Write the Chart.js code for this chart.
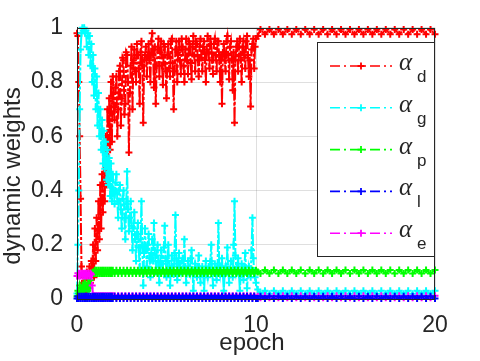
<!DOCTYPE html>
<html><head><meta charset="utf-8">
<script src="https://cdn.jsdelivr.net/npm/chart.js@4/dist/chart.umd.min.js"></script>
<style>html,body{margin:0;padding:0;background:#fff}canvas{display:block}</style>
</head><body>
<canvas id="c" width="480" height="361"></canvas>
<script>
// epochs for the noisy series (alpha_d, alpha_g)
const epochsFine = [
 0,0.05,0.1,0.15,0.2,0.25,0.3,0.35,0.4,0.45,0.5,0.55,0.6,0.65,0.7,0.75,0.8,0.85,0.9,0.95,1,1.05,1.1,1.15,1.2,1.25,1.3,1.35,1.4,1.45,1.5,1.55,1.6,1.65,1.7,1.75,1.8,1.85,1.9,1.95,2,
 2.05,2.1,2.15,2.2,2.25,2.3,2.35,2.4,2.45,2.5,2.55,2.6,2.65,2.7,2.75,2.8,2.85,2.9,2.95,3,
 3.05,3.1,3.15,3.2,3.25,3.3,3.35,3.4,3.45,3.5,3.55,3.6,3.65,3.7,3.75,3.8,3.85,3.9,3.95,4,
 4.05,4.1,4.15,4.2,4.25,4.3,4.35,4.4,4.45,4.5,4.55,4.6,4.65,4.7,4.75,4.8,4.85,4.9,4.95,5,
 5.05,5.1,5.15,5.2,5.25,5.3,5.35,5.4,5.45,5.5,5.55,5.6,5.65,5.7,5.75,5.8,5.85,5.9,5.95,6,
 6.05,6.1,6.15,6.2,6.25,6.3,6.35,6.4,6.45,6.5,6.55,6.6,6.65,6.7,6.75,6.8,6.85,6.9,6.95,7,
 7.05,7.1,7.15,7.2,7.25,7.3,7.35,7.4,7.45,7.5,7.55,7.6,7.65,7.7,7.75,7.8,7.85,7.9,7.95,8,
 8.05,8.1,8.15,8.2,8.25,8.3,8.35,8.4,8.45,8.5,8.55,8.6,8.65,8.7,8.75,8.8,8.85,8.9,8.95,9,
 9.05,9.1,9.15,9.2,9.25,9.3,9.35,9.4,9.45,9.5,9.55,9.6,9.65,9.7,9.75,9.8,9.85,9.9,9.95,10,
 10.1,
 10.25,10.5,10.75,11,11.25,11.5,11.75,12,12.25,12.5,
 12.75,13,13.25,13.5,13.75,14,14.25,14.5,14.75,15,
 15.25,15.5,15.75,16,16.25,16.5,16.75,17,17.25,17.5,
 17.75,18,18.25,18.5,18.75,19,19.25,19.5,19.75,20
];
// epochs for the smooth series (alpha_p, alpha_l, alpha_e)
const epochs = [
 0,0.05,0.1,0.15,0.2,0.25,0.3,0.35,0.4,0.45,0.5,0.55,0.6,0.65,0.7,0.75,0.8,0.85,0.9,0.95,1,1.05,1.1,1.15,1.2,1.25,1.3,1.35,1.4,1.45,1.5,1.55,1.6,1.65,1.7,1.75,1.8,1.85,1.9,1.95,2,
 2.1,2.2,2.3,2.4,2.5,2.6,2.7,2.8,2.9,
 3,3.1,3.2,3.3,3.4,3.5,3.6,3.7,3.8,3.9,
 4,4.1,4.2,4.3,4.4,4.5,4.6,4.7,4.8,4.9,
 5,5.1,5.2,5.3,5.4,5.5,5.6,5.7,5.8,5.9,
 6,6.1,6.2,6.3,6.4,6.5,6.6,6.7,6.8,6.9,
 7,7.1,7.2,7.3,7.4,7.5,7.6,7.7,7.8,7.9,
 8,8.1,8.2,8.3,8.4,8.5,8.6,8.7,8.8,8.9,
 9,9.1,9.2,9.3,9.4,9.5,9.6,9.7,9.8,9.9,
 10,
 10.1,
 10.25,10.5,10.75,11,11.25,11.5,11.75,12,12.25,12.5,
 12.75,13,13.25,13.5,13.75,14,14.25,14.5,14.75,15,
 15.25,15.5,15.75,16,16.25,16.5,16.75,17,17.25,17.5,
 17.75,18,18.25,18.5,18.75,19,19.25,19.5,19.75,20
];
const alphaD = [
 0.98,0.97,0.8,0.6,0.37,0.12,0.03,0.06,0.02,0.08,0.03,0.1,0.04,0.07,0.12,0.06,0.14,0.1,
 0.2,0.08,0.26,0.14,0.3,0.18,0.36,0.22,0.42,0.26,0.46,0.32,0.55,0.36,0.6,0.42,0.7,0.48,0.74,0.55,0.8,0.58,0.82,
 0.72,0.66,0.78,0.82,0.6,0.7,0.84,0.86,0.64,0.74,0.89,0.88,0.68,0.72,0.91,0.9,0.8,0.54,0.76,0.86,
 0.93,0.7,0.88,0.92,0.84,0.8,0.94,0.9,0.85,0.72,0.91,0.95,0.86,0.65,0.88,0.9,0.93,0.82,0.89,0.94,
 0.88,0.8,0.95,0.98,0.9,0.78,0.93,0.72,0.86,0.92,0.96,0.82,0.91,0.95,0.86,0.79,0.94,0.93,0.84,0.74,
 0.9,0.94,0.85,0.82,0.95,0.96,0.87,0.7,0.84,0.92,0.95,0.8,0.91,0.95,0.88,0.83,0.96,0.93,0.86,0.8,
 0.92,0.96,0.88,0.83,0.95,0.94,0.87,0.81,0.93,0.97,0.9,0.84,0.95,0.94,0.88,0.82,0.93,0.96,0.89,0.84,
 0.93,0.95,0.88,0.8,0.92,0.97,0.91,0.85,0.96,0.94,0.88,0.83,0.94,0.96,0.9,0.84,0.95,0.95,0.88,0.8,
 0.9,0.72,0.91,0.94,0.88,0.84,0.95,0.97,0.9,0.81,0.93,0.95,0.88,0.77,0.91,0.65,0.88,0.93,0.95,0.84,
 0.93,0.96,0.88,0.8,0.93,0.95,0.89,0.85,0.95,0.97,0.9,0.82,0.88,0.71,0.92,0.94,0.96,0.85,0.93,0.96,
 0.97,
 0.994,0.976,0.994,0.976,0.994,0.976,0.994,0.976,0.994,0.976,
 0.994,0.976,0.994,0.976,0.994,0.976,0.994,0.976,0.994,0.976,
 0.994,0.976,0.994,0.976,0.994,0.976,0.994,0.976,0.994,0.976,
 0.994,0.976,0.994,0.976,0.994,0.976,0.994,0.976,0.994,0.976
];
const alphaG = [
 0.02,0.2,0.4,0.7,0.92,0.98,1,0.99,1,0.98,
 0.99,0.93,0.98,0.9,0.97,0.86,0.94,0.8,0.9,0.75,0.85,0.7,0.82,0.64,0.76,0.6,0.7,0.55,0.66,0.5,0.62,0.48,0.58,0.44,0.55,0.42,0.52,0.38,0.5,0.36,0.46,
 0.4,0.35,0.43,0.46,0.36,0.3,0.4,0.42,0.33,0.26,0.37,0.4,0.3,0.22,0.35,0.47,0.33,0.25,0.3,0.36,
 0.27,0.18,0.26,0.32,0.22,0.14,0.24,0.28,0.19,0.1,0.22,0.36,0.2,0.05,0.17,0.26,0.18,0.12,0.2,0.24,
 0.15,0.08,0.17,0.22,0.14,0.28,0.18,0.1,0.16,0.2,0.12,0.06,0.14,0.18,0.13,0.11,0.19,0.27,0.15,0.08,
 0.14,0.2,0.12,0.05,0.11,0.16,0.12,0.09,0.17,0.31,0.15,0.07,0.13,0.17,0.12,0.1,0.14,0.15,0.11,0.22,
 0.12,0.06,0.11,0.14,0.1,0.09,0.15,0.18,0.11,0.03,0.1,0.13,0.11,0.08,0.12,0.16,0.1,0.06,0.1,0.12,
 0.09,0.03,0.1,0.14,0.1,0.08,0.12,0.11,0.14,0.2,0.1,0.05,0.1,0.13,0.1,0.07,0.12,0.28,0.12,0.09,
 0.12,0.15,0.09,0.03,0.09,0.12,0.1,0.19,0.1,0.06,0.11,0.14,0.1,0.08,0.2,0.36,0.16,0.1,0.12,0.15,
 0.09,0.03,0.09,0.13,0.1,0.07,0.12,0.17,0.1,0.04,0.09,0.12,0.1,0.08,0.18,0.3,0.15,0.1,0.08,0.06,
 0.035,
 0.019,0.03,0.019,0.03,0.019,0.03,0.019,0.03,0.019,0.03,
 0.019,0.03,0.019,0.03,0.019,0.03,0.019,0.03,0.019,0.03,
 0.019,0.03,0.019,0.03,0.019,0.03,0.019,0.03,0.019,0.03,
 0.019,0.03,0.019,0.03,0.019,0.03,0.019,0.03,0.019,0.03
];
const alphaP = [
 0.01,0.03,0.02,0.05,0.03,0.04,0.02,0.05,0.03,0.06,0.04,0.05,0.03,0.06,0.04,0.07,0.09,0.095,0.1,0.094,0.106,
 0.094,0.106,0.094,0.106,0.094,0.106,0.094,0.106,0.094,0.106,
 0.094,0.106,0.094,0.106,0.094,0.106,0.094,0.106,0.094,0.106,
 0.094,0.106,0.094,0.106,0.094,0.106,0.094,0.106,0.094,0.106,
 0.094,0.106,0.094,0.106,0.094,0.106,0.094,0.106,0.094,0.106,
 0.094,0.106,0.094,0.106,0.094,0.106,0.094,0.106,0.094,0.106,
 0.094,0.106,0.094,0.106,0.094,0.106,0.094,0.106,0.094,0.106,
 0.094,0.106,0.094,0.106,0.094,0.106,0.094,0.106,0.094,0.106,
 0.094,0.106,0.094,0.106,0.094,0.106,0.094,0.106,0.094,0.106,
 0.094,0.106,0.094,0.106,0.094,0.106,0.094,0.106,0.094,0.106,
 0.094,0.106,0.094,0.106,0.094,0.106,0.094,0.106,0.094,0.106,
 0.1,
 0.094,0.107,0.094,0.107,0.094,0.107,0.094,0.107,0.094,0.107,
 0.094,0.107,0.094,0.107,0.094,0.107,0.094,0.107,0.094,0.107,
 0.094,0.107,0.094,0.107,0.094,0.107,0.094,0.107,0.094,0.107,
 0.094,0.107,0.094,0.107,0.094,0.107,0.094,0.107,0.094,0.107
];
const alphaL = [
 0.002,0.01,0.002,0.01,0.002,0.01,0.002,0.01,0.002,0.01,
 0.002,0.01,0.002,0.01,0.002,0.01,0.002,0.01,0.002,0.01,
 0.002,0.01,0.002,0.01,0.002,0.01,0.002,0.01,0.002,0.01,
 0.002,0.01,0.002,0.01,0.002,0.01,0.002,0.01,0.002,0.01,
 0.002,
 0.01,0.002,0.01,0.002,0.01,0.002,0.01,0.002,0.01,0.002,
 0.01,0.002,0.01,0.002,0.01,0.002,0.01,0.002,0.01,0.002,
 0.01,0.002,0.01,0.002,0.01,0.002,0.01,0.002,0.01,0.002,
 0.01,0.002,0.01,0.002,0.01,0.002,0.01,0.002,0.01,0.002,
 0.01,0.002,0.01,0.002,0.01,0.002,0.01,0.002,0.01,0.002,
 0.01,0.002,0.01,0.002,0.01,0.002,0.01,0.002,0.01,0.002,
 0.01,0.002,0.01,0.002,0.01,0.002,0.01,0.002,0.01,0.002,
 0.01,0.002,0.01,0.002,0.01,0.002,0.01,0.002,0.01,0.002,
 0.002,
 0.01,0.002,0.01,0.002,0.01,0.002,0.01,0.002,0.01,0.002,
 0.01,0.002,0.01,0.002,0.01,0.002,0.01,0.002,0.01,0.002,
 0.01,0.002,0.01,0.002,0.01,0.002,0.01,0.002,0.01,0.002,
 0.01,0.002,0.01,0.002,0.01,0.002,0.01,0.002,0.01,0.002
];
const alphaE = [
 0.085,0.095,0.085,0.095,0.085,0.095,0.085,0.095,0.085,0.095,0.085,0.095,0.085,0.095,0.085,0.095,
 0.09,0.05,0.012,
 0.005,0.012,0.005,0.012,0.005,0.012,0.005,0.012,0.005,0.012,0.005,
 0.012,0.005,0.012,0.005,0.012,0.005,0.012,0.005,0.012,0.005,0.012,
 0.012,0.005,0.012,0.005,0.012,0.005,0.012,0.005,0.012,0.005,
 0.012,0.005,0.012,0.005,0.012,0.005,0.012,0.005,0.012,0.005,
 0.012,0.005,0.012,0.005,0.012,0.005,0.012,0.005,0.012,0.005,
 0.012,0.005,0.012,0.005,0.012,0.005,0.012,0.005,0.012,0.005,
 0.012,0.005,0.012,0.005,0.012,0.005,0.012,0.005,0.012,0.005,
 0.012,0.005,0.012,0.005,0.012,0.005,0.012,0.005,0.012,0.005,
 0.012,0.005,0.012,0.005,0.012,0.005,0.012,0.005,0.012,0.005,
 0.012,0.005,0.012,0.005,0.012,0.005,0.012,0.005,0.012,0.005,
 0.01,
 0.005,0.012,0.005,0.012,0.005,0.012,0.005,0.012,0.005,0.012,
 0.005,0.012,0.005,0.012,0.005,0.012,0.005,0.012,0.005,0.012,
 0.005,0.012,0.005,0.012,0.005,0.012,0.005,0.012,0.005,0.012,
 0.005,0.012,0.005,0.012,0.005,0.012,0.005,0.012,0.005,0.012
];
const seriesValues = [alphaD, alphaG, alphaP, alphaL, alphaE];
const seriesEpochs = [epochsFine, epochsFine, epochs, epochs, epochs];
const seriesSubscripts = ['d', 'g', 'p', 'l', 'e'];
const seriesColors = ['#ff0000', '#00ffff', '#00ff00', '#0000ff', '#ff00ff'];
const yTickLabels = ['0', '0.2', '0.4', '0.6', '0.8', '1'];
const xTickLabels = ['0', '10', '20'];
const xTitle = 'epoch';
const yTitle = 'dynamic weights';

const DASH = [12, 2, 3, 2];
const LEGEND_DASH = [10, 4, 2, 4];
const DRAW_ORDER = [4, 3, 2, 0, 1]; // lower = drawn on top
const AX = '#262626';
const SANS = '"Liberation Sans", Arial, Helvetica, sans-serif';

const datasets = seriesValues.map((vals, i) => ({
  label: '\u03b1' + seriesSubscripts[i],
  data: seriesEpochs[i].map((e, k) => ({ x: e, y: vals[k] })),
  borderColor: seriesColors[i],
  backgroundColor: seriesColors[i],
  borderWidth: 2,
  borderDash: DASH,
  pointStyle: 'cross',
  pointRadius: 3.5,
  pointBorderWidth: 2,
  pointBorderColor: seriesColors[i],
  tension: 0,
  clip: false,
  order: DRAW_ORDER[i]
}));

const decor = {
  id: 'decor',
  afterDraw(chart) {
    const ctx = chart.ctx, a = chart.chartArea;
    ctx.save();
    ctx.strokeStyle = AX; ctx.lineWidth = 1; ctx.setLineDash([]);
    ctx.strokeRect(Math.round(a.left) + 0.5, Math.round(a.top) + 0.5,
      Math.round(a.right - a.left) - 1, Math.round(a.bottom - a.top));
    ctx.fillStyle = AX;
    ctx.font = '24px ' + SANS;
    ctx.textAlign = 'center';
    ctx.textBaseline = 'alphabetic';
    ctx.fillText(xTitle, 252, 350);
    ctx.save();
    ctx.translate(20, 176);
    ctx.rotate(-Math.PI / 2);
    ctx.fillText(yTitle, 0, 0);
    ctx.restore();
    const lx = 317, ly = 42, lw = 118, lh = 215;
    ctx.fillStyle = '#ffffff';
    ctx.fillRect(lx, ly, lw, lh);
    ctx.strokeStyle = AX;
    ctx.strokeRect(lx + 0.5, ly + 0.5, lw - 1, lh - 1);
    seriesSubscripts.forEach((s, i) => {
      const y = 66 + i * 41.8;
      const c = seriesColors[i];
      ctx.strokeStyle = c; ctx.lineWidth = 1.6;
      ctx.setLineDash(LEGEND_DASH);
      ctx.beginPath(); ctx.moveTo(330, y); ctx.lineTo(392, y); ctx.stroke();
      ctx.setLineDash([]);
      ctx.lineWidth = 1.8;
      ctx.beginPath();
      ctx.moveTo(361 - 3.5, y); ctx.lineTo(361 + 3.5, y);
      ctx.moveTo(361, y - 3.5); ctx.lineTo(361, y + 3.5);
      ctx.stroke();
      ctx.fillStyle = AX;
      ctx.textAlign = 'left';
      ctx.textBaseline = 'alphabetic';
      ctx.font = 'italic 25px "Liberation Serif", "DejaVu Serif", serif';
      ctx.fillText('\u03b1', 399, y + 4);
      ctx.font = '17px ' + SANS;
      ctx.fillText(s, 417, y + 16);
    });
    ctx.restore();
  }
};

new Chart(document.getElementById('c'), {
  type: 'line',
  data: { datasets },
  options: {
    responsive: false,
    maintainAspectRatio: false,
    animation: false,
    events: [],
    devicePixelRatio: 1,
    layout: { padding: { left: 0, right: 45, top: 26, bottom: 0 } },
    plugins: { legend: { display: false }, tooltip: { enabled: false } },
    scales: {
      x: {
        type: 'linear', min: 0, max: 20,
        afterFit(s) { s.height = 62; },
        ticks: {
          stepSize: 10, color: AX, padding: 13,
          font: { family: SANS, size: 23 },
          callback: (v, i) => xTickLabels[i]
        },
        grid: { color: 'rgba(38,38,38,0.15)', drawTicks: false },
        border: { color: AX, width: 1 }
      },
      y: {
        min: 0, max: 1,
        afterFit(s) { s.width = 77; },
        ticks: {
          stepSize: 0.2, color: AX, padding: 14,
          font: { family: SANS, size: 23 },
          callback: (v, i) => yTickLabels[i]
        },
        grid: { color: 'rgba(38,38,38,0.15)', drawTicks: false },
        border: { color: AX, width: 1 }
      }
    }
  },
  plugins: [decor]
});
</script>
</body></html>
